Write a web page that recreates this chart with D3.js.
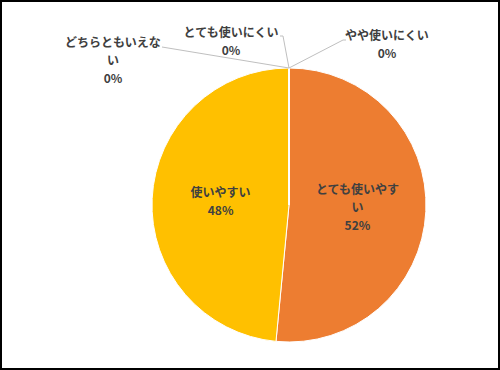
<!DOCTYPE html>
<meta charset="utf-8">
<html>
<head>
<title>Pie</title>
<style>
  body {
    margin: 0;
    font-family: 'Noto Sans CJK JP', sans-serif;
  }
  .lbl {
    font-size: 12px;
    font-weight: bold;
    fill: #404040;
  }
</style>
</head>
<body>
<div id="chart"></div>

<script src="https://cdn.jsdelivr.net/npm/d3@7"></script>
<script>

var categories = ["とても使いやすい", "使いやすい", "どちらともいえない", "とても使いにくい", "やや使いにくい"];
var counts = [17, 16, 0, 0, 0];
var colors = ["#ED7D31", "#FFC000", "#A5A5A5", "#4472C4", "#5B9BD5"];

var width = 500, height = 370;
var cx = 289, cy = 205, radius = 137;

var svg = d3.select("#chart").append("svg")
    .attr("width", width)
    .attr("height", height);

// outer frame
svg.append("rect")
    .attr("x", 1).attr("y", 1)
    .attr("width", width - 2).attr("height", height - 2)
    .style("fill", "#fff")
    .style("stroke", "#000")
    .style("stroke-width", 2);

var total = d3.sum(counts);
var fmt = d3.format(".0%");

var pie = d3.pie().sort(null).value(function(d) { return d; });
var arcs = pie(counts);
var arc = d3.arc().innerRadius(0).outerRadius(radius);

var g = svg.append("g").attr("transform", "translate(" + cx + "," + cy + ")");

g.selectAll("path.slice")
  .data(arcs).enter()
  .append("path")
    .attr("class", "slice")
    .attr("d", arc)
    .style("fill", function(d, i) { return colors[i]; })
    .style("stroke", "#fff")
    .style("stroke-width", 1);

// split a label into lines of n chars
function wrap(s, n) {
  var out = [];
  for (var i = 0; i < s.length; i += n) out.push(s.slice(i, i + n));
  return out;
}

var lineH = 18;

// labels inside the slices
arcs.forEach(function(d, i) {
  if (d.value == 0) return;
  var c = arc.centroid(d);
  var lines = wrap(categories[i], 7);
  lines.push(fmt(d.value / total));
  var top = c[1] - (lines.length - 1) * lineH / 2;
  lines.forEach(function(t, k) {
    g.append("text")
      .attr("class", "lbl")
      .attr("x", c[0])
      .attr("y", top + k * lineH)
      .attr("dy", "0.35em")
      .attr("text-anchor", "middle")
      .text(t);
  });
});

// zero slices get labels outside with leader lines
var outside = [
  {i: 2, x: 113, y: 43, lx: 162, ly: 47, stub: 162},
  {i: 3, x: 231, y: 33, lx: 283, ly: 36, stub: 280},
  {i: 4, x: 387, y: 36, lx: 343, ly: 40, stub: 346}
];

var edge = d3.arc().innerRadius(radius).outerRadius(radius);

outside.forEach(function(o) {
  var d = arcs[o.i];
  var p = edge.centroid(d);
  svg.append("polyline")
    .attr("points", [[cx + p[0], cy + p[1]], [o.lx, o.ly], [o.stub, o.ly]].join(" "))
    .style("fill", "none")
    .style("stroke", "#BFBFBF")
    .style("stroke-width", 1);

  var lines = wrap(categories[o.i], 8);
  lines.push(fmt(d.value / total));
  lines.forEach(function(t, k) {
    svg.append("text")
      .attr("class", "lbl")
      .attr("x", o.x)
      .attr("y", o.y + k * lineH)
      .attr("dy", "0.35em")
      .attr("text-anchor", "middle")
      .text(t);
  });
});

</script>
</body>
</html>
